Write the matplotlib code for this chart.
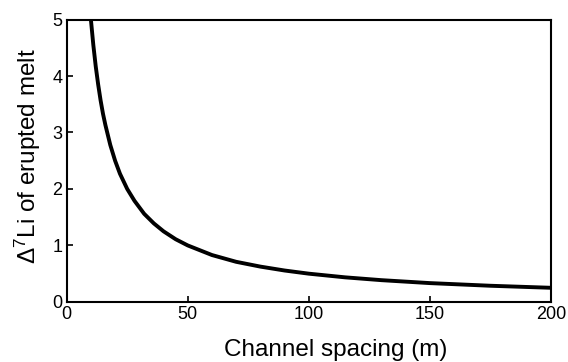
import matplotlib
matplotlib.use("Agg")
import matplotlib.pyplot as plt

plt.rcParams['font.family'] = ['Liberation Sans', 'DejaVu Sans']
plt.rcParams['mathtext.fontset'] = 'custom'
plt.rcParams['mathtext.rm'] = 'Liberation Sans'
plt.rcParams['mathtext.it'] = 'Liberation Sans:italic'

# Values
channel_spacing = [10, 11, 12, 13, 14, 15, 16, 18, 20, 22, 25, 28, 32, 36, 40, 45,
                   50, 60, 70, 80, 90, 100, 115, 130, 150, 175, 200]
delta_li = [5.0, 4.55, 4.17, 3.85, 3.57, 3.33, 3.13, 2.78, 2.5, 2.27, 2.0, 1.79,
            1.56, 1.39, 1.25, 1.11, 1.0, 0.83, 0.71, 0.625, 0.556, 0.5, 0.435,
            0.385, 0.333, 0.286, 0.25]
x_ticks = [0, 50, 100, 150, 200]
y_ticks = [0, 1, 2, 3, 4, 5]

fig = plt.figure(figsize=(5.68, 3.62), dpi=100)
ax = fig.add_axes([0.1174, 0.166, 0.970 - 0.1174, 0.946 - 0.166])
ax.plot(channel_spacing, delta_li, color='black', lw=2.8, solid_capstyle='butt')
ax.set_xlim(0, 200)
ax.set_ylim(0, 5)
ax.set_xticks(x_ticks)
ax.set_yticks(y_ticks)
ax.tick_params(direction='in', length=4, width=1.2, labelsize=13, top=False, right=False, pad=3)
for s in ax.spines.values():
    s.set_linewidth(1.5)
ax.set_xlabel('Channel spacing (m)', fontsize=17.5)
ax.xaxis.set_label_coords(0.555, -0.132)
ax.set_ylabel(r'Δ$^\mathrm{7}$Li of erupted melt', fontsize=17.5)
ax.yaxis.set_label_coords(-0.048, 0.517)
fig.savefig('out.png', dpi=100)
